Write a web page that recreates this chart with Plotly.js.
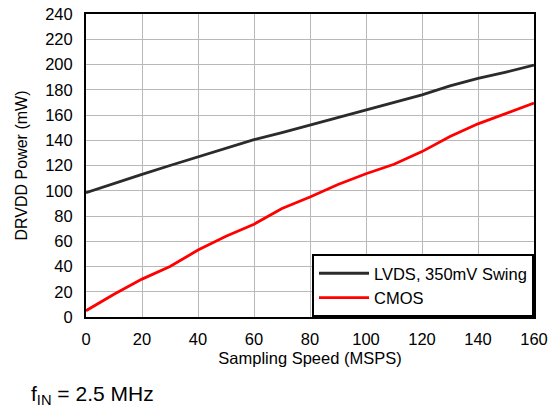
<!DOCTYPE html>
<html>
<head>
<meta charset="utf-8">
<script src="https://cdn.plot.ly/plotly-3.0.1.min.js"></script>
<style>
  html, body { margin: 0; padding: 0; background: #ffffff; }
  #chart { width: 554px; height: 409px; }
</style>
</head>
<body>
<div id="chart"></div>
<script>
// Sampling speed (MSPS)
const samplingSpeed = [0, 10, 20, 30, 40, 50, 60, 70, 80, 90, 100, 110, 120, 130, 140, 150, 160];
// DRVDD power (mW)
const lvdsPower = [98.5, 106, 113, 120, 127, 134, 140.5, 146, 152, 158, 164, 170, 176, 183, 189, 194, 199.5];
const cmosPower = [5, 18, 30, 40, 53, 64, 73.5, 86, 95, 105, 113.5, 121, 131, 143, 153, 161, 169.5];
const seriesNames = ["LVDS, 350mV Swing", "CMOS"];
const xTitle = "Sampling Speed (MSPS)";
const yTitle = "DRVDD Power (mW)";
const noteText = "f<sub>IN</sub> = 2.5 MHz";

const FONT = "Liberation Sans, Arial, Helvetica, sans-serif";

const traces = [
  { x: samplingSpeed, y: lvdsPower, name: seriesNames[0], type: "scatter", mode: "lines",
    line: { color: "#2b2b2b", width: 2.8 } },
  { x: samplingSpeed, y: cmosPower, name: seriesNames[1], type: "scatter", mode: "lines",
    line: { color: "#ff0000", width: 2.8 } }
];

const layout = {
  width: 554, height: 409,
  margin: { l: 86, r: 20, t: 14, b: 92 },
  paper_bgcolor: "#ffffff", plot_bgcolor: "#ffffff",
  font: { family: FONT, size: 16, color: "#000000" },
  showlegend: true,
  legend: {
    x: 1, y: 0, xanchor: "right", yanchor: "bottom",
    bgcolor: "#ffffff", bordercolor: "#000000", borderwidth: 2,
    itemwidth: 50,
    font: { family: FONT, size: 16.5, color: "#000000" }
  },
  xaxis: {
    range: [0, 160], dtick: 20, tick0: 0,
    showgrid: true, gridcolor: "#b8b8b8", gridwidth: 1,
    zeroline: false, showline: true, linecolor: "#000000", linewidth: 2, mirror: true,
    ticks: "", ticklabelstandoff: 6,
    tickfont: { family: FONT, size: 16.5 },
    title: { text: xTitle, font: { family: FONT, size: 16.5 }, standoff: 6 }
  },
  yaxis: {
    range: [0, 240], dtick: 20, tick0: 0,
    showgrid: true, gridcolor: "#b8b8b8", gridwidth: 1,
    zeroline: false, showline: true, linecolor: "#000000", linewidth: 2, mirror: true,
    ticks: "", ticklabelstandoff: 8,
    tickfont: { family: FONT, size: 16.5 },
    title: { text: yTitle, font: { family: FONT, size: 16 }, standoff: 14 }
  },
  annotations: [
    { text: noteText, xref: "paper", yref: "paper", x: -0.127, y: -0.258,
      xanchor: "left", yanchor: "middle", showarrow: false,
      font: { family: FONT, size: 21, color: "#000000" } }
  ]
};

Plotly.newPlot("chart", traces, layout, { displayModeBar: false, staticPlot: true });
</script>
</body>
</html>
